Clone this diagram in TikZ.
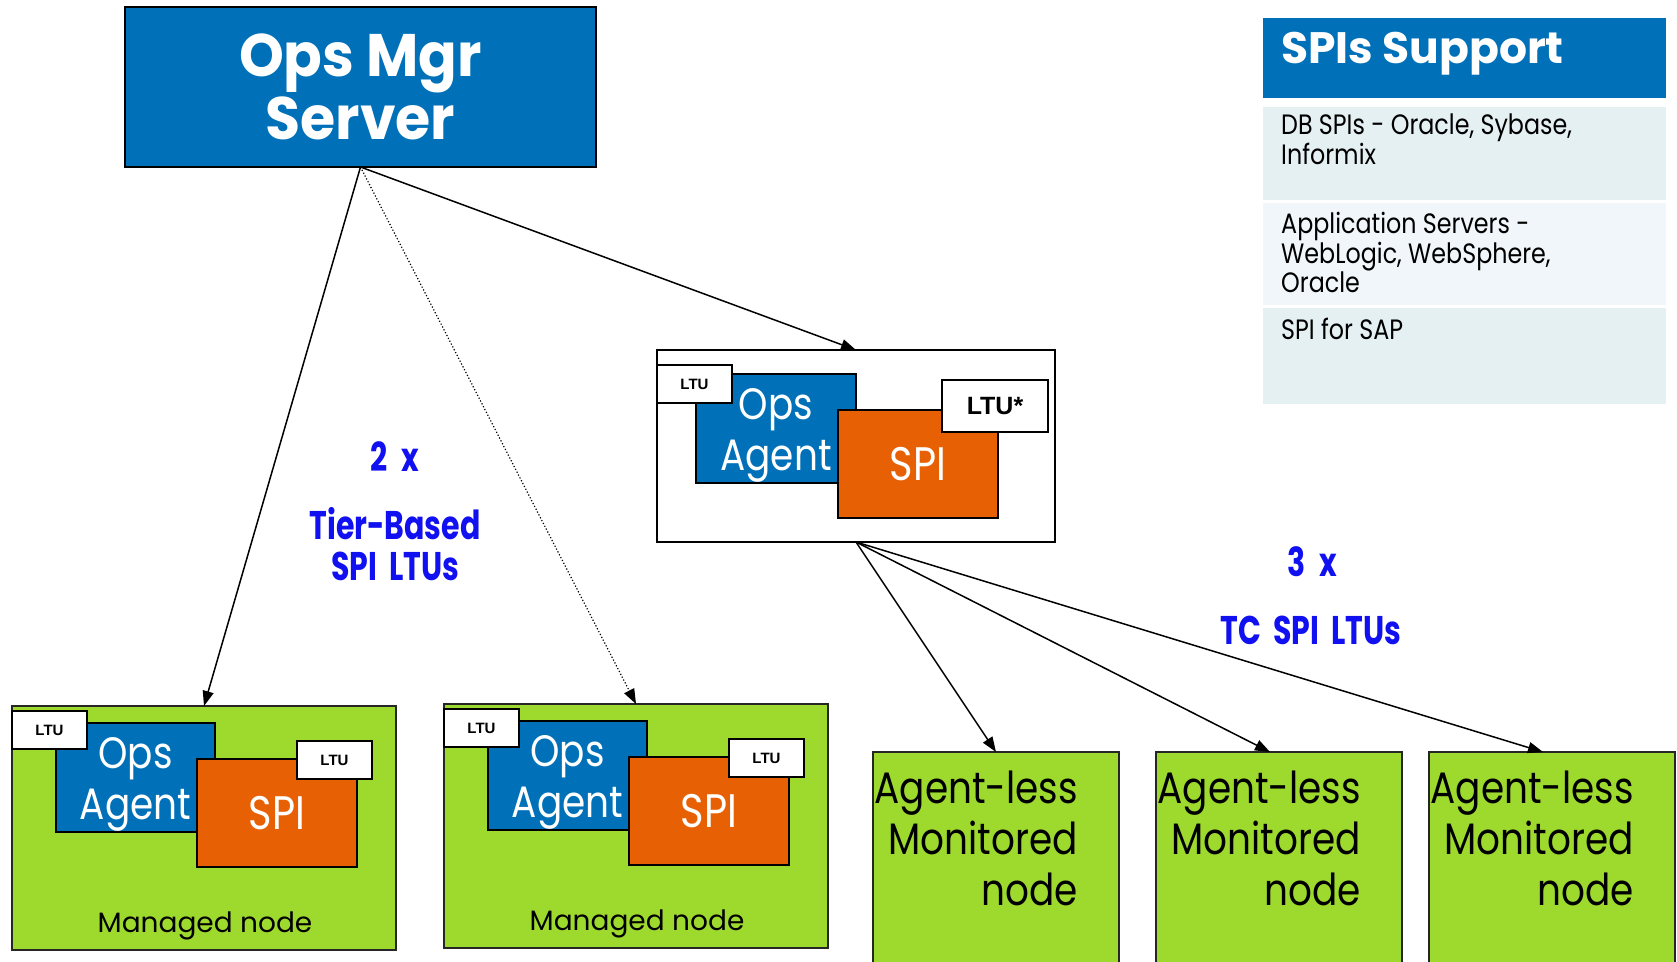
\documentclass[tikz,border=0pt]{standalone}
\usepackage{fontspec}
\usetikzlibrary{arrows.meta,calc}
\newfontfamily\fr[FakeStretch=0.85]{Poppins}
\newfontfamily\fn{Poppins}
\newfontfamily\fb[FakeStretch=0.95]{Poppins}
\newfontfamily\fbh{Poppins}
\newfontfamily\fbc[FakeStretch=0.75]{Poppins}
\newfontfamily\far{Liberation Sans}
\definecolor{hpblue}{RGB}{0,113,185}
\definecolor{spiorange}{RGB}{232,96,4}
\definecolor{nodegreen}{RGB}{158,218,46}
\definecolor{lblblue}{RGB}{16,16,240}
\definecolor{rowA}{RGB}{229,240,243}
\definecolor{rowB}{RGB}{240,246,249}
\tikzset{
  rbox/.style={inner sep=0pt, outer sep=0pt, anchor=north west},
  bluebox/.style={rbox, draw=black, line width=2pt, fill=hpblue, text=white},
  agentbox/.style={rbox, draw=black, line width=1.6pt, fill=hpblue, text=white, align=center,
    minimum width=160pt, minimum height=109pt, font=\fr\fontsize{44}{51}\selectfont},
  spibox/.style={rbox, draw=black, line width=1.6pt, fill=spiorange, text=white,
    minimum width=160pt, minimum height=108pt, font=\fr\fontsize{47}{47}\selectfont},
  ltubox/.style={rbox, draw=black, line width=1.4pt, fill=white,
    minimum width=75pt, minimum height=38pt, font=\far\bfseries\fontsize{15}{15}\selectfont},
  greenbox/.style={rbox, draw=black!85, line width=1.6pt, fill=nodegreen},
  whitebox/.style={rbox, draw=black, line width=1.6pt, fill=white},
  rowbox/.style={rbox, draw=none, minimum width=403pt},
  rowtext/.style={anchor=north west, inner sep=0pt, align=left, font=\fr\fontsize{28}{28}\selectfont},
  mntext/.style={anchor=base, inner sep=0pt, font=\fn\fontsize{28}{28}\selectfont},
  altext/.style={anchor=north east, inner sep=0pt, align=right, font=\fr\fontsize{44}{51}\selectfont},
  bluelbl/.style={inner sep=0pt, align=center, text=lblblue, font=\fbc\bfseries\fontsize{40}{41}\selectfont},
  arr/.style={line width=1.5pt, -{Triangle[length=15pt,width=11pt]}},
}
\newcommand{\agtxt}{\rule{0pt}{44pt}Ops\\Agent}
\begin{document}
\begin{tikzpicture}[x=1pt,y=-1pt]
\useasboundingbox (0,0) rectangle (1677,961);
\clip (0,0) rectangle (1677,961);

% Ops Mgr Server
\node[bluebox, minimum width=471pt, minimum height=160pt, align=center,
  font=\fb\bfseries\fontsize{60}{63}\selectfont] (mgr) at (125,7) {Ops Mgr\\Server};

% SPIs Support table
\node[rowbox, fill=hpblue, minimum height=80pt] (hdr) at (1263,18) {};
\node[anchor=base west, inner sep=0pt, text=white, font=\fbh\bfseries\fontsize{44}{44}\selectfont] (hdrt) at (1281,63) {SPIs Support};
\node[rowbox, fill=rowA, minimum height=93pt] (row1) at (1263,107) {};
\node[rowbox, fill=rowB, minimum height=102pt] (row2) at (1263,203) {};
\node[rowbox, fill=rowA, minimum height=96pt] (row3) at (1263,308) {};
\node[rowtext] (row1t) at (1281,114) {DB SPIs - Oracle, Sybase,\\Informix};
\node[rowtext] (row2t) at (1281,212) {Application Servers -\\WebLogic, WebSphere,\\Oracle};
\node[rowtext] (row3t) at (1281,318) {SPI for SAP};

% Center box
\node[whitebox, minimum width=398pt, minimum height=192pt] (cb) at (657,350) {};
\node[agentbox] (cbag) at (696,374) {\agtxt};
\node[ltubox] (cbltu) at (657,365) {LTU};
\node[spibox] (cbspi) at (838,410) {SPI};
\node[ltubox, minimum width=106pt, minimum height=52pt, font=\far\bfseries\fontsize{25}{25}\selectfont] (cbltus) at (942,380) {LTU*};

% Managed node 1
\node[greenbox, minimum width=384pt, minimum height=244pt] (mn1) at (12,706) {};
\node[agentbox, minimum width=159pt] (ag1) at (56,723) {\agtxt};
\node[ltubox] (ltu1) at (12,711) {LTU};
\node[spibox] (spi1) at (197,759) {SPI};
\node[ltubox] (ltu1b) at (297,741) {LTU};
\node[mntext] (mn1t) at (205,932) {Managed node};

% Managed node 2
\node[greenbox, minimum width=384pt, minimum height=244pt] (mn2) at (444,704) {};
\node[agentbox, minimum width=159pt] (ag2) at (488,721) {\agtxt};
\node[ltubox] (ltu2) at (444,709) {LTU};
\node[spibox] (spi2) at (629,757) {SPI};
\node[ltubox] (ltu2b) at (729,739) {LTU};
\node[mntext] (mn2t) at (637,930) {Managed node};

% Agent-less nodes
\node[greenbox, minimum width=246pt, minimum height=240pt] (al1) at (873,752) {};
\node[greenbox, minimum width=246pt, minimum height=240pt] (al2) at (1156,752) {};
\node[greenbox, minimum width=246pt, minimum height=240pt] (al3) at (1429,752) {};
\node[altext] (al1t) at (1078,771) {Agent-less\\Monitored\\node};
\node[altext] (al2t) at (1361,771) {Agent-less\\Monitored\\node};
\node[altext] (al3t) at (1634,771) {Agent-less\\Monitored\\node};

% Blue labels
\node[bluelbl] (lbl1) at (395,457) {2\hspace{0.35em}x};
\node[bluelbl] (lbl2) at (395,544) {Tier-Based\\SPI\hspace{0.3em}LTUs};
\node[bluelbl] (lbl3) at (1312,562) {3\hspace{0.35em}x};
\node[bluelbl] (lbl4) at (1311,630) {TC\hspace{0.3em}SPI\hspace{0.3em}LTUs};

% Connectors
\draw[arr] (mgr.south) -- (mn1.north);
\draw[arr, line width=1.2pt, dash pattern=on 1.2pt off 2pt] (mgr.south) -- (mn2.north);
\draw[arr] (mgr.south) -- (cb.north);
\draw[arr] (cb.south) -- (al1.north);
\draw[arr] (cb.south) -- ($(al2.north)+(-9,0)$);
\draw[arr] (cb.south) -- ($(al3.north)+(-9,0)$);
\end{tikzpicture}
\end{document}
